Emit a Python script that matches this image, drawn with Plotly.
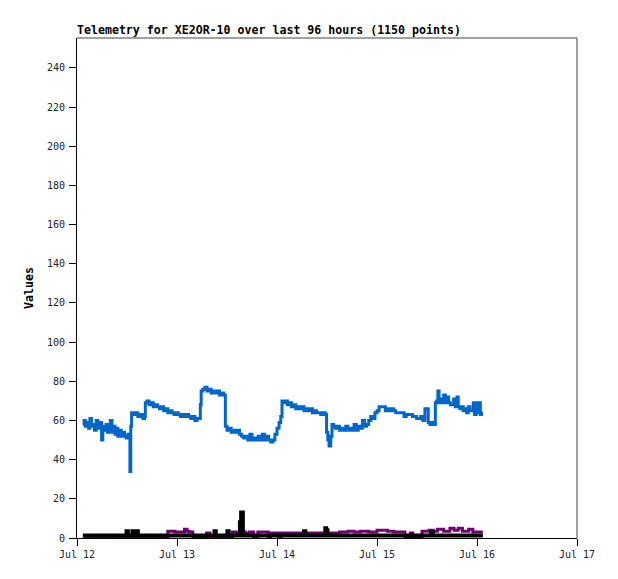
import pandas as pd
import plotly.graph_objects as go

TITLE = "Telemetry for XE2OR-10 over last 96 hours (1150 points)"
START = "2023-07-12"
X_TICK_LABELS = ["Jul 12", "Jul 13", "Jul 14", "Jul 15", "Jul 16", "Jul 17"]
Y_TICKS = list(range(0, 241, 20))

# hours since Jul 12 00:00 and values
blue_hours = [1.4, 1.7, 2.0, 2.4, 2.8, 3.1, 3.5, 3.9, 4.2, 4.6, 5.0, 5.3, 5.6, 5.9, 6.2, 6.6, 7.0, 7.3, 7.7, 8.0,
              8.4, 8.8, 9.1, 9.5, 9.8, 10.2, 10.6, 11.0, 11.4, 11.8, 12.2, 12.6, 12.7, 12.9, 13.1, 13.5, 14.0, 14.6,
              15.2, 15.8, 16.2, 16.4, 16.8, 17.3, 17.8, 18.3, 18.8, 19.3, 19.8, 20.3, 20.8, 21.3, 21.8, 22.3, 22.8,
              23.3, 23.8, 24.3, 24.8, 25.3, 25.8, 26.3, 26.8, 27.3, 27.8, 28.3, 28.8, 29.3, 29.6, 29.8, 30.2, 30.7,
              31.2, 31.7, 32.2, 32.7, 33.2, 33.7, 34.2, 34.7, 35.2, 35.6, 36.0, 36.5, 37.0, 37.5, 38.0, 38.5, 39.0,
              39.5, 40.0, 40.5, 41.0, 41.5, 42.0, 42.5, 43.0, 43.5, 44.0, 44.5, 45.0, 45.5, 46.0, 46.5, 47.0, 47.5,
              48.0, 48.5, 48.9, 49.2, 49.6, 50.0, 50.5, 51.0, 51.5, 52.0, 52.5, 53.0, 53.5, 54.0, 54.5, 55.0, 55.5,
              56.0, 56.5, 57.0, 57.5, 58.0, 58.5, 59.0, 59.6, 59.9, 60.2, 60.5, 60.9, 61.2, 61.6, 62.0, 62.5, 63.0,
              63.5, 64.0, 64.5, 65.0, 65.5, 66.0, 66.5, 67.0, 67.5, 68.0, 68.5, 69.0, 69.5, 70.0, 70.5, 71.0, 71.5,
              72.0, 72.5, 73.0, 73.5, 74.0, 74.5, 75.0, 75.5, 76.0, 76.5, 77.0, 77.5, 78.0, 78.5, 79.0, 79.5, 80.0,
              80.5, 81.0, 81.5, 82.0, 82.5, 83.0, 83.5, 84.0, 84.3, 84.7, 85.2, 85.6, 86.0, 86.3, 86.6, 86.9, 87.3,
              87.7, 88.0, 88.4, 88.8, 89.2, 89.6, 90.0, 90.4, 90.8, 91.2, 91.5, 91.9, 92.3, 92.7, 93.1, 93.5, 93.9,
              94.3, 94.7, 95.1, 95.4, 95.8, 96.1, 96.5, 96.8, 97.1, 97.4]
blue_values = [58, 60, 57, 59, 56, 61, 57, 58, 55, 60, 57, 56, 59, 50, 57, 55, 58, 54, 56, 60,
               54, 57, 53, 56, 52, 55, 52, 54, 52, 51, 53, 52, 34, 57, 64, 63, 64, 62,
               63, 61, 62, 69, 70, 68, 69, 67, 68, 67, 66, 67, 65, 66, 64, 65, 64,
               63, 64, 63, 62, 63, 62, 63, 62, 61, 62, 60, 61, 61, 68, 75, 76, 77,
               75, 76, 74, 75, 74, 75, 73, 74, 73, 57, 55, 56, 54, 55, 54, 55, 53,
               52, 51, 52, 50, 53, 50, 51, 50, 52, 50, 53, 50, 52, 50, 49, 50, 53,
               56, 59, 62, 70, 69, 70, 68, 69, 67, 68, 66, 67, 66, 67, 65, 66, 65,
               66, 64, 65, 64, 64, 63, 64, 63, 54, 50, 47, 52, 58, 57, 56, 57, 55,
               56, 55, 57, 55, 56, 55, 58, 55, 57, 56, 60, 57, 58, 60, 62, 61, 64,
               65, 67, 67, 67, 65, 66, 65, 66, 65, 64, 64, 64, 64, 62, 63, 63, 63,
               62, 62, 61, 61, 62, 60, 66, 66, 59, 58, 59, 58, 69, 70, 75, 69, 71,
               69, 73, 69, 72, 69, 68, 68, 71, 67, 72, 67, 66, 67, 65, 66, 64, 67,
               65, 65, 69, 63, 69, 64, 69, 63, 64, 64]

purple_hours = [1.4, 21.8, 23.5, 25.8, 26.4, 26.9, 27.8, 31.1, 31.9, 32.6, 37.3, 38.2, 39.1, 39.4, 39.8,
                40.4, 41.4, 42.4, 43.4, 45.9, 46.4, 48.4, 48.9, 63.0, 65.0, 66.5, 68.0, 70.0, 72.0, 74.5,
                76.0, 78.7, 80.0, 80.6, 82.8, 84.5, 85.5, 86.5, 88.0, 89.5, 90.5, 91.5, 92.5, 94.0, 95.0,
                96.0, 97.4]
purple_values = [0.5, 3.5, 3.0, 4.5, 3.5, 3.0, 0.5, 2.5, 0.5, 0.5, 3.0, 2.5, 4.0, 13.0, 3.0,
                 2.5, 3.0, 0.5, 3.0, 0.5, 2.5, 0.5, 2.5, 3.0, 3.5, 3.0, 3.5, 3.0, 4.0, 3.5,
                 3.0, 0.5, 2.5, 0.5, 3.5, 4.0, 3.5, 4.5, 3.5, 5.0, 4.0, 5.0, 3.5, 4.5, 3.0,
                 3.0, 3.0]

black_hours = [1.4, 11.9, 12.2, 13.3, 13.6, 14.2, 14.6, 33.0, 33.3, 36.1, 36.4, 39.1, 39.4, 39.8, 54.5,
               54.8, 59.6, 59.8, 60.1, 85.0, 85.4, 97.4]
black_values = [1.3, 3.5, 1.3, 3.5, 1.3, 3.5, 1.3, 3.5, 1.3, 3.5, 1.3, 8.0, 13.0, 1.3, 3.5,
                1.3, 5.0, 4.0, 1.3, 3.0, 1.3, 1.3]


def to_time(hours):
    return pd.Timestamp(START) + pd.to_timedelta(hours, unit="h")


MONO = "DejaVu Sans Mono"
fig = go.Figure()
fig.add_trace(go.Scatter(x=to_time(blue_hours), y=blue_values, mode="lines", line_shape="hv",
                         line=dict(color="#0066cc", width=3), name="blue"))
fig.add_trace(go.Scatter(x=to_time(purple_hours), y=purple_values, mode="lines", line_shape="hv",
                         line=dict(color="#700070", width=3), name="purple"))
fig.add_trace(go.Scatter(x=to_time(black_hours), y=black_values, mode="lines", line_shape="hv",
                         line=dict(color="#000000", width=4), name="black"))

tick_vals = pd.date_range(START, periods=len(X_TICK_LABELS), freq="D")

fig.update_layout(
    width=618, height=579,
    margin=dict(l=77, r=41, t=38, b=41, autoexpand=False),
    paper_bgcolor="white", plot_bgcolor="white",
    showlegend=False,
    title=dict(text=TITLE, x=77 / 618, xanchor="left", xref="container",
               y=1 - 30 / 579, yanchor="middle", yref="container",
               font=dict(family=MONO, size=11.6, color="black", weight="bold")),
    xaxis=dict(range=[tick_vals[0], tick_vals[-1]], tickvals=tick_vals, ticktext=X_TICK_LABELS,
               showgrid=False, zeroline=False, showline=True, linecolor="black", linewidth=1,
               ticks="outside", ticklen=7, tickcolor="black",
               tickfont=dict(family=MONO, size=10, color="#222")),
    yaxis=dict(range=[0, 255.3], tickvals=Y_TICKS, showgrid=False, zeroline=False,
               showline=True, linecolor="black", linewidth=1,
               ticks="outside", ticklen=7, tickcolor="black", ticklabelstandoff=2,
               tickfont=dict(family=MONO, size=10, color="#222"),
               title=dict(text="Values", standoff=10,
                          font=dict(family=MONO, size=11.6, color="black", weight="bold"))),
    shapes=[dict(type="line", xref="paper", yref="paper", x0=0, x1=1, y0=1, y1=1,
                 line=dict(color="#444", width=1)),
            dict(type="line", xref="paper", yref="paper", x0=1, x1=1, y0=0, y1=1,
                 line=dict(color="#444", width=1))],
)

fig.write_html("out.html", config={"displayModeBar": False},
               post_script="document.body.style.margin='0';")
